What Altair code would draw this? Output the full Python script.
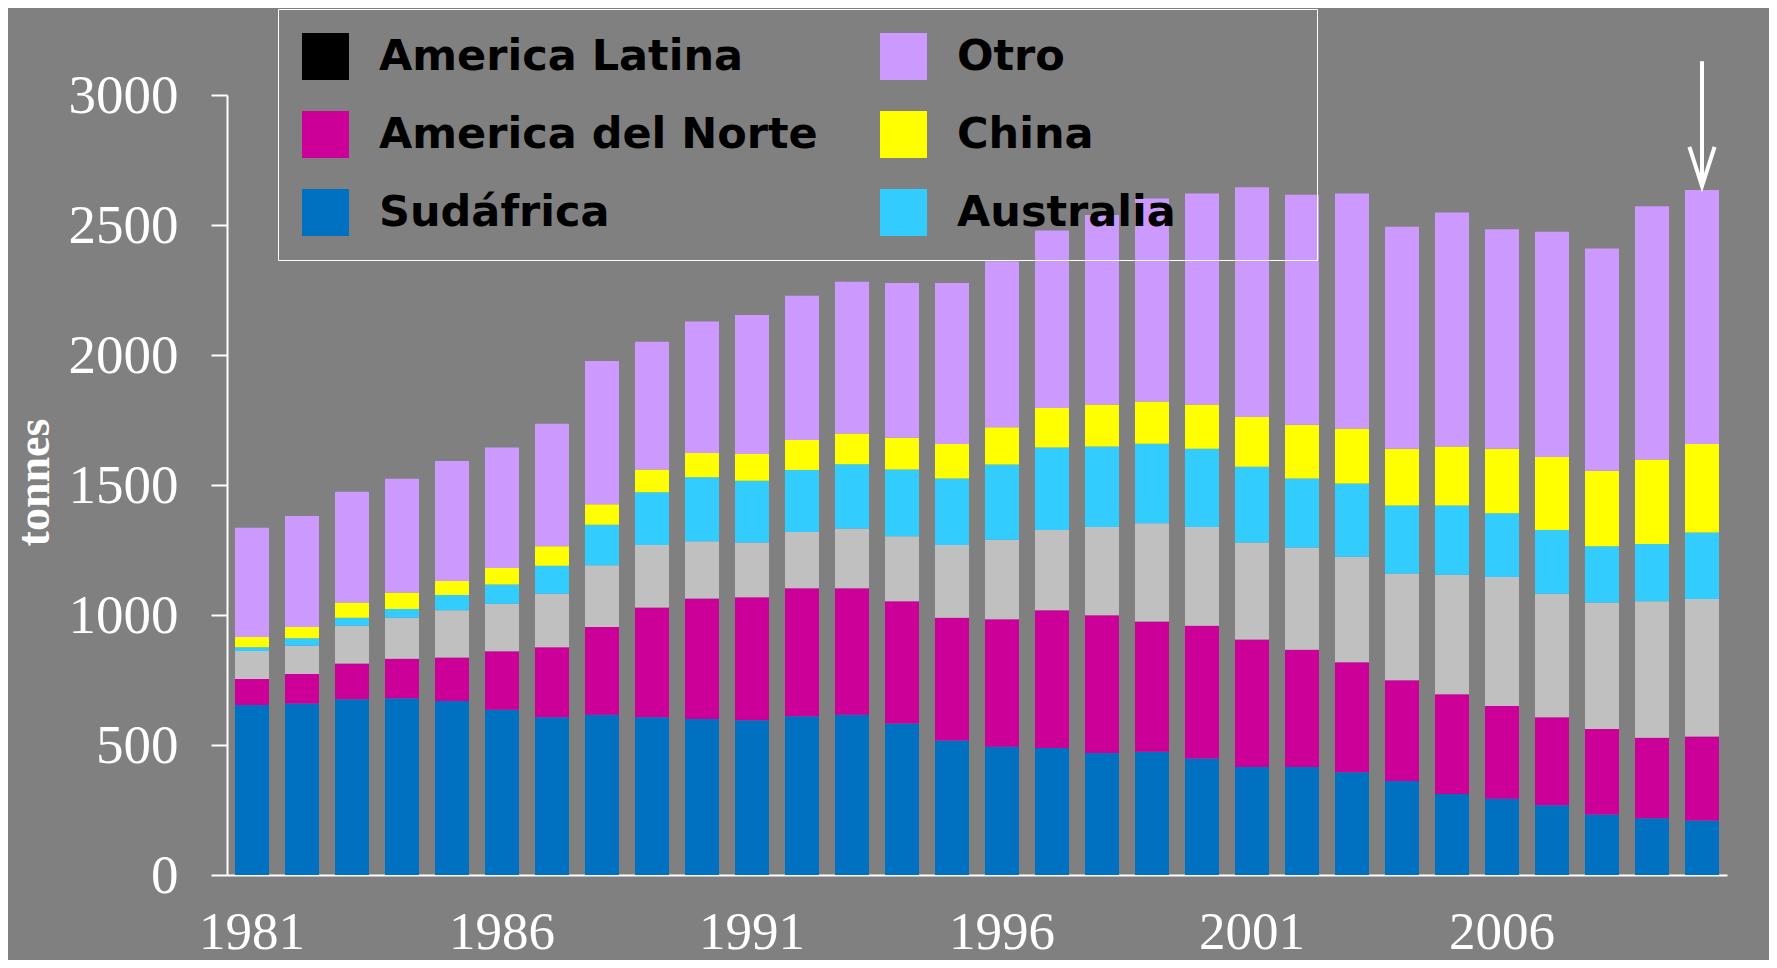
import altair as alt
import pandas as pd

years = list(range(1981, 2011))

sudafrica = [654, 660, 676, 680, 669, 636, 607, 616, 607, 600, 595, 611, 616, 583, 517,
             493, 488, 469, 474, 448, 415, 415, 395, 362, 312, 293, 268, 233, 218, 210]
america_norte = [100, 113, 137, 152, 168, 225, 269, 338, 422, 463, 473, 492, 487, 470, 472,
                 491, 530, 530, 501, 511, 491, 451, 423, 387, 383, 357, 339, 329, 310, 323]
america_latina = [108, 109, 146, 157, 181, 182, 206, 237, 240, 221, 211, 216, 230, 250, 280,
                  305, 309, 339, 378, 379, 373, 394, 406, 411, 460, 496, 475, 486, 525, 529]
australia = [14, 29, 30, 34, 59, 74, 107, 156, 203, 246, 237, 239, 247, 257, 256,
             290, 317, 310, 306, 301, 291, 265, 282, 261, 266, 245, 245, 216, 220, 255]
china = [39, 43, 59, 64, 54, 64, 75, 79, 88, 93, 103, 115, 118, 122, 133,
         143, 152, 162, 162, 171, 192, 207, 211, 218, 227, 248, 281, 291, 325, 341]
otro = [421, 427, 426, 437, 461, 463, 472, 551, 491, 506, 535, 555, 584, 595, 619,
        639, 683, 728, 781, 811, 883, 884, 904, 854, 900, 845, 866, 855, 974, 977]

series_names = ["Sudáfrica", "America del Norte", "America Latina", "Australia", "China", "Otro"]
series_values = [sudafrica, america_norte, america_latina, australia, china, otro]
bar_colors = ["#0070C0", "#CC0099", "#C0C0C0", "#33CCFF", "#FFFF00", "#CC99FF"]

legend_order = ["America Latina", "America del Norte", "Sudáfrica", "Otro", "China", "Australia"]
legend_colors = ["#000000", "#CC0099", "#0070C0", "#CC99FF", "#FFFF00", "#33CCFF"]

x_label_years = [1981, 1986, 1991, 1996, 2001, 2006]
y_ticks = [0, 500, 1000, 1500, 2000, 2500, 3000]

arrow_year = [2010]
arrow_from = [3130]
arrow_to = [2650]

rows = []
for i, (name, vals) in enumerate(zip(series_names, series_values)):
    for yr, v in zip(years, vals):
        rows.append({"year": yr, "serie": name, "valor": v, "orden": i})
df = pd.DataFrame(rows)
arrow_df = pd.DataFrame({"year": arrow_year, "y1": arrow_from, "y2": arrow_to})

SERIF = "Liberation Serif, Times New Roman, serif"
SANS = "DejaVu Sans, Verdana, sans-serif"


def make_x():
    return alt.X(
        "year:O",
        title=None,
        scale=alt.Scale(paddingInner=0.32, paddingOuter=0.16),
        axis=alt.Axis(values=x_label_years, ticks=False, labelAngle=0,
                      labelFont=SERIF, labelFontSize=53, labelColor="white",
                      labelPadding=31, labelBaseline="top",
                      domainColor="white", domainWidth=2, grid=False),
    )


def make_y(field, stack=None):
    kw = {}
    if stack is not None:
        kw["stack"] = stack
    return alt.Y(
        field,
        title="tonnes",
        scale=alt.Scale(domain=[0, 3000], nice=False, zero=True),
        axis=alt.Axis(values=y_ticks, format="d", grid=False, domainColor="white", domainWidth=2,
                      tickColor="white", tickWidth=2, tickSize=16,
                      labelColor="white", labelFont=SERIF, labelFontSize=55, labelPadding=33,
                      titleFont=SERIF, titleFontWeight="bold", titleFontSize=46,
                      titleColor="white", titleAngle=270, titleX=-193, titleY=387,
                      titleAlign="center", titleBaseline="middle"),
        **kw,
    )


bars = alt.Chart(df).mark_bar().encode(
    x=make_x(),
    y=make_y("valor:Q", stack="zero"),
    color=alt.Color("serie:N", scale=alt.Scale(domain=series_names, range=bar_colors), legend=None),
    order=alt.Order("orden:Q"),
)

legend_layer = alt.Chart(df).transform_filter("false").mark_square(filled=True).encode(
    x=make_x(),
    y=make_y("valor:Q"),
    color=alt.Color(
        "serie:N",
        scale=alt.Scale(domain=legend_order, range=legend_colors),
        legend=alt.Legend(
            title=" ", titleOrient="right", titlePadding=117, titleFontSize=10,
            orient="none", legendX=51, legendY=-86, columns=2,
            columnPadding=62, rowPadding=31, padding=24,
            symbolType="square", symbolSize=2209, symbolStrokeWidth=0, symbolOpacity=1,
            labelFont=SANS, labelFontSize=43, labelFontWeight="bold", labelColor="black",
            labelOffset=30, labelLimit=0, strokeColor="white",
        ),
    ),
)

arrow_rule = alt.Chart(arrow_df).mark_rule(color="white", strokeWidth=4).encode(
    x=make_x(),
    y=make_y("y1:Q"),
    y2="y2:Q",
)

arrow_head = alt.Chart(arrow_df).mark_point(
    shape="M-0.9,-2.8L0,0L0.9,-2.8", size=784, color="white",
    strokeWidth=4, filled=False, opacity=1,
).encode(
    x=make_x(),
    y=make_y("y2:Q"),
)

chart = alt.layer(bars, legend_layer, arrow_rule, arrow_head).resolve_scale(
    color="independent"
).properties(
    width=1500,
    height=780,
    padding={"left": 219, "top": 87, "right": 42, "bottom": 85},
    autosize=alt.AutoSizeParams(type="none"),
    background="#808080",
).configure_view(strokeWidth=0)

chart.save("out.html", embed_options={"renderer": "svg", "actions": False})
